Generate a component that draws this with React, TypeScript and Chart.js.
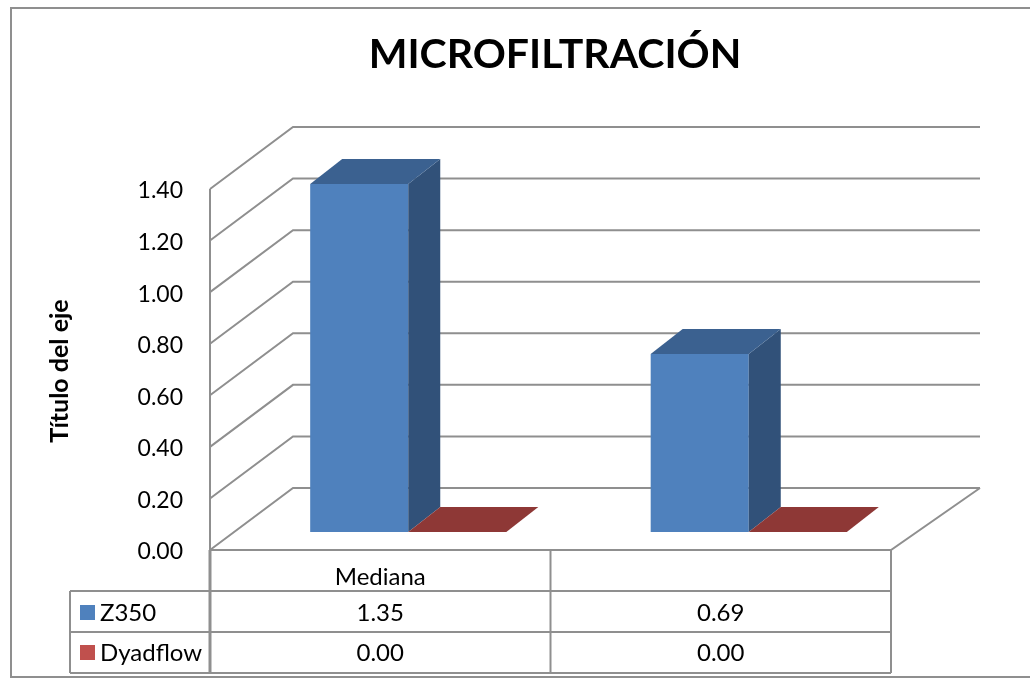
import React, { useEffect, useRef } from 'react';
import { Chart, registerables } from 'chart.js';

Chart.register(...registerables);

// ---------- data ----------
const TITLE = 'MICROFILTRACIÓN';
const Y_TITLE = 'Título del eje';
const categories = ['Mediana', ''];
const seriesNames = ['Z350', 'Dyadflow'];
const z350 = [1.35, 0.69];
const dyadflow = [0.0, 0.0];
const yMin = 0;
const yMax = 1.4;
const yStep = 0.2;

// ---------- style ----------
const FONT = 'Lato, "Noto Sans", sans-serif';
const FRONT = ['#4F81BD', '#C0504D'];
const SIDE = ['#315179', '#7A2E2C'];
const TOP = ['#3B6190', '#8E3836'];
const GRID = '#8f8f8f';
const WALL_DX_L = 83;
const WALL_DX_R = 89;
const WALL_DY = 62;
const BAR_SHIFT_X = 28;
const BAR_SHIFT_Y = -18;
const BAR_DX = 32;
const BAR_DY = -25;

const threeD = {
  id: 'threeD',
  beforeDatasetsDraw(chart: any) {
    const { ctx, chartArea, scales } = chart;
    const y = scales.y;
    const L = chartArea.left;
    const R = chartArea.right;
    const y0 = y.getPixelForValue(yMin);
    ctx.save();
    ctx.strokeStyle = GRID;
    ctx.lineWidth = 2;
    ctx.lineJoin = 'miter';
    y.ticks.forEach((t: any) => {
      const py = y.getPixelForValue(t.value);
      ctx.beginPath();
      ctx.moveTo(L, py);
      ctx.lineTo(L + WALL_DX_L, py - WALL_DY);
      ctx.lineTo(R + WALL_DX_R, py - WALL_DY);
      ctx.stroke();
    });
    // floor front + right edges
    ctx.beginPath();
    ctx.moveTo(L, y0);
    ctx.lineTo(R, y0);
    ctx.lineTo(R + WALL_DX_R, y0 - WALL_DY);
    ctx.stroke();
    // front edge of left wall
    ctx.beginPath();
    ctx.moveTo(L, y.getPixelForValue(yMax));
    ctx.lineTo(L, y0);
    ctx.stroke();
    ctx.restore();
    ctx.save();
    ctx.translate(BAR_SHIFT_X, BAR_SHIFT_Y);
  },
  afterDatasetsDraw(chart: any) {
    const { ctx } = chart;
    ctx.restore();
    ctx.save();
    ctx.translate(BAR_SHIFT_X, BAR_SHIFT_Y);
    chart.data.datasets.forEach((ds: any, i: number) => {
      const meta = chart.getDatasetMeta(i);
      meta.data.forEach((el: any) => {
        const p = el.getProps(['x', 'y', 'base', 'width'], true);
        const l = p.x - p.width / 2;
        const r = p.x + p.width / 2;
        const top = Math.min(p.y, p.base);
        const base = Math.max(p.y, p.base);
        if (base - top > 0.5) {
          ctx.fillStyle = SIDE[i];
          ctx.beginPath();
          ctx.moveTo(r, top);
          ctx.lineTo(r + BAR_DX, top + BAR_DY);
          ctx.lineTo(r + BAR_DX, base + BAR_DY);
          ctx.lineTo(r, base);
          ctx.closePath();
          ctx.fill();
        }
        ctx.fillStyle = TOP[i];
        ctx.beginPath();
        ctx.moveTo(l, top);
        ctx.lineTo(l + BAR_DX, top + BAR_DY);
        ctx.lineTo(r + BAR_DX, top + BAR_DY);
        ctx.lineTo(r, top);
        ctx.closePath();
        ctx.fill();
      });
    });
    ctx.restore();
  },
  afterDraw(chart: any) {
    const { ctx, chartArea, scales } = chart;
    const x = scales.x;
    const y = scales.y;
    const L = chartArea.left;
    const R = chartArea.right;
    const y0 = y.getPixelForValue(yMin);
    ctx.save();
    // title
    ctx.fillStyle = '#000';
    ctx.font = `bold 41px ${FONT}`;
    ctx.textAlign = 'center';
    ctx.textBaseline = 'alphabetic';
    ctx.fillText(TITLE, 555, 68);
    // y-axis title
    ctx.save();
    ctx.translate(68, 371);
    ctx.rotate(-Math.PI / 2);
    ctx.font = `bold 25px ${FONT}`;
    ctx.fillText(Y_TITLE, 0, 0);
    ctx.restore();

    // data table
    const rowH = [41, 41, 41];
    const r1 = y0 + rowH[0];
    const r2 = r1 + rowH[1];
    const r3 = r2 + rowH[2];
    const legendLeft = 70;
    const slot = (R - L) / categories.length;
    ctx.strokeStyle = GRID;
    ctx.lineWidth = 2;
    ctx.beginPath();
    ctx.moveTo(legendLeft, r1); ctx.lineTo(R, r1);
    ctx.moveTo(legendLeft, r2); ctx.lineTo(R, r2);
    ctx.moveTo(legendLeft, r3); ctx.lineTo(R, r3);
    ctx.moveTo(legendLeft, r1); ctx.lineTo(legendLeft, r3);
    for (let i = 0; i <= categories.length; i++) {
      const cx = L + i * slot;
      ctx.moveTo(cx, y0); ctx.lineTo(cx, r3);
    }
    ctx.stroke();
    ctx.lineWidth = 3;
    ctx.beginPath();
    ctx.moveTo(L, y0); ctx.lineTo(L, r3);
    ctx.stroke();

    ctx.font = `24px ${FONT}`;
    ctx.fillStyle = '#000';
    ctx.textAlign = 'center';
    categories.forEach((c, i) => {
      ctx.fillText(c, x.getPixelForValue(i), r1 - 6);
    });
    const series = [z350, dyadflow];
    const baselines = [r2 - 11, r3 - 12];
    series.forEach((vals, s) => {
      vals.forEach((v, i) => {
        ctx.textAlign = 'center';
        ctx.fillText(v.toFixed(2), x.getPixelForValue(i), baselines[s]);
      });
      ctx.fillStyle = FRONT[s];
      ctx.fillRect(80, baselines[s] - 16, 15, 15);
      ctx.fillStyle = '#000';
      ctx.textAlign = 'left';
      ctx.fillText(seriesNames[s], 100, baselines[s]);
    });

    // outer border
    ctx.strokeStyle = GRID;
    ctx.lineWidth = 2;
    ctx.strokeRect(11, 8, 1040, 669);
    ctx.restore();
  },
};

export default function App() {
  const ref = useRef<HTMLCanvasElement | null>(null);
  useEffect(() => {
    if (!ref.current) return;
    const chart = new Chart(ref.current, {
      type: 'bar',
      data: {
        labels: categories,
        datasets: [
          { label: seriesNames[0], data: z350, backgroundColor: FRONT[0], borderWidth: 0 },
          { label: seriesNames[1], data: dyadflow, backgroundColor: FRONT[1], borderWidth: 0 },
        ],
      },
      options: {
        responsive: false,
        animation: false,
        events: [],
        layout: { padding: { left: 0, right: 139, top: 189, bottom: 129 } },
        datasets: { bar: { categoryPercentage: 0.576, barPercentage: 1 } },
        plugins: { legend: { display: false }, title: { display: false }, tooltip: { enabled: false } },
        scales: {
          x: { type: 'category', display: false, offset: true, grid: { display: false } },
          y: {
            min: yMin,
            max: yMax,
            border: { display: false },
            grid: { display: false, drawTicks: false },
            afterFit: (s: any) => { s.width = 210; },
            ticks: {
              stepSize: yStep,
              padding: 27,
              labelOffset: 2,
              color: '#000',
              font: { family: FONT, size: 23 },
              callback: (v: any) => Number(v).toFixed(2),
            },
          },
        },
      },
      plugins: [threeD],
    });
    return () => chart.destroy();
  }, []);
  return (
    <div style={{ position: 'fixed', left: 0, top: 0, width: 1030, height: 679, background: '#fff' }}>
      <canvas ref={ref} width={1030} height={679} style={{ display: 'block' }} />
    </div>
  );
}
